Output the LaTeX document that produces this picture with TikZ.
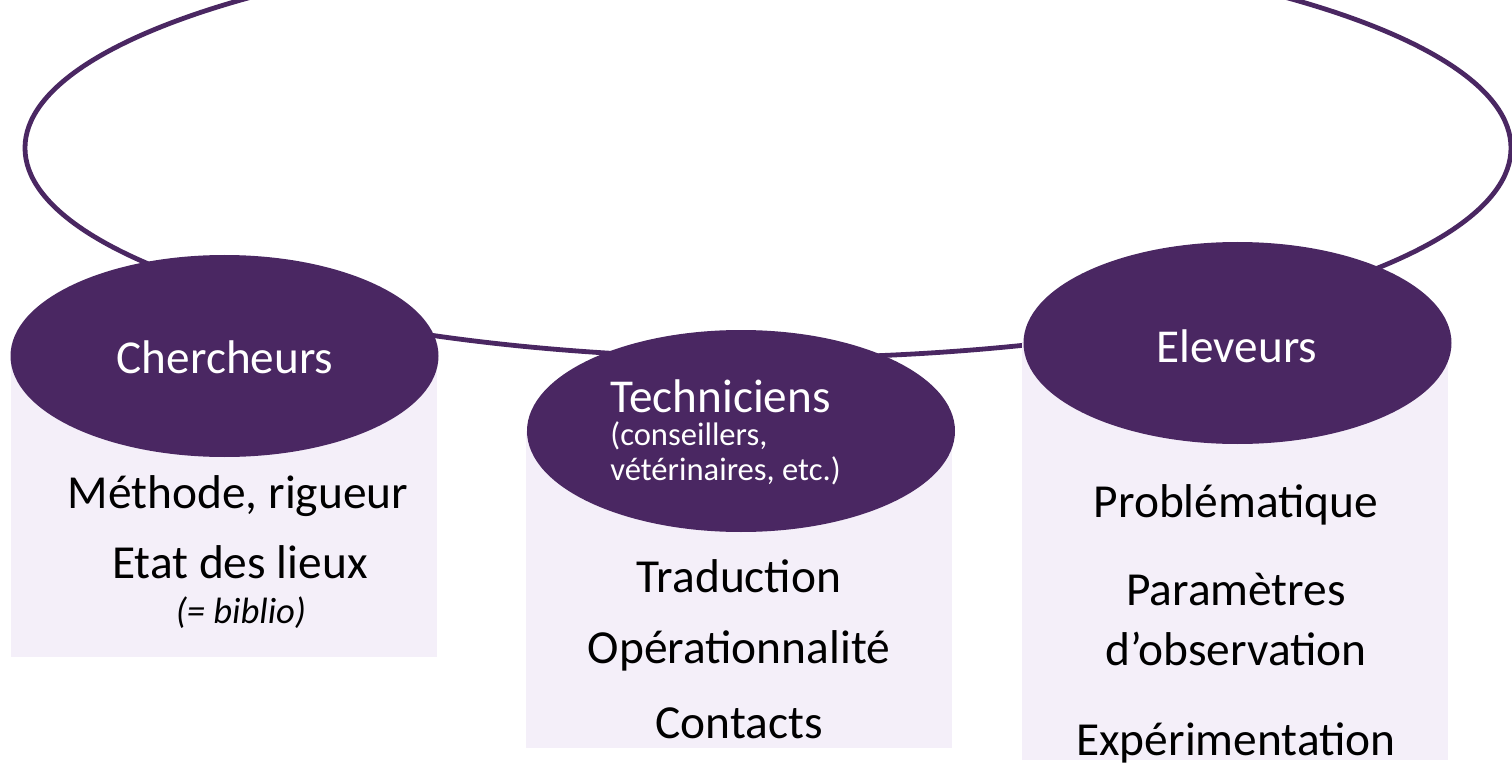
\documentclass[tikz,border=0pt]{standalone}
\usepackage{fontspec}
\setmainfont{Carlito}
\usetikzlibrary{shapes.geometric}
\definecolor{plum}{HTML}{4A2762}
\definecolor{lav}{HTML}{F4EFF9}
\begin{document}
\begin{tikzpicture}[x=0.5pt,y=-0.5pt,
  blob/.style={ellipse, fill=plum, minimum width=214pt, minimum height=101pt, inner sep=0pt},
  head/.style={text=white, font=\fontsize{23.6}{28}\selectfont, anchor=base, inner sep=0pt},
  subtxt/.style={text=white, font=\fontsize{16.3}{19}\selectfont, anchor=base west, inner sep=0pt},
  body/.style={text=black, font=\fontsize{23.7}{28}\selectfont, anchor=base, inner sep=0pt},
  ring/.style={draw=plum, line width=2.4pt},
  panel/.style={fill=lav}]
\useasboundingbox (0,0) rectangle (1512,765);
\clip (0,0) rectangle (1512,765);
% ring
\draw[ring] (768,148) ellipse [x radius=743, y radius=210];
% panels
\fill[panel] (11,356) rectangle (437,657);
\fill[panel] (526,431) rectangle (952,748);
\fill[panel] (1022,343) rectangle (1448,760);
% ellipses
\node[blob] (cher) at (224.5,356) {};
\node[blob] (tech) at (741,431) {};
\node[blob] (elev) at (1237.5,343) {};
% headings
\node[head] (cherT) at (225,373) {Chercheurs};
\node[head, anchor=base west] (techT) at (610,412) {Techniciens};
\node[subtxt] (techS1) at (610,445) {(conseillers,};
\node[subtxt] (techS2) at (610,480) {vétérinaires, etc.)};
\node[head] (elevT) at (1237,362) {Eleveurs};
% bodies
\node[body] (c1) at (238,508) {Méthode, rigueur};
\node[body] (c2) at (240,578) {Etat des lieux};
\node[body, font=\fontsize{18.3}{21}\selectfont\itshape] (c3) at (241,623) {(= biblio)};
\node[body] (t1) at (739,592) {Traduction};
\node[body] (t2) at (739,663) {Opérationnalité};
\node[body] (t3) at (739,738) {Contacts};
\node[body] (e1) at (1236,517) {Problématique};
\node[body] (e2) at (1236,605) {Paramètres};
\node[body] (e3) at (1236,665) {d’observation};
\node[body] (e4) at (1236,755) {Expérimentation};
\end{tikzpicture}
\end{document}
